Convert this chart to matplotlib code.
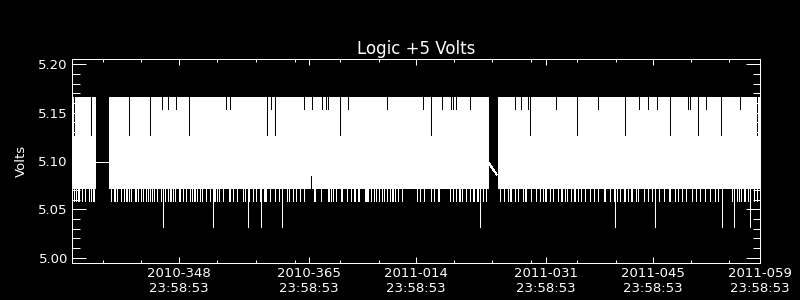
import numpy as np
import matplotlib.pyplot as plt
from matplotlib.ticker import FixedLocator, MultipleLocator, FormatStrFormatter

# Logic +5 V housekeeping, min/max of each 3 h bin
# time axis: days since 2010-334 23:58:53
bins_per_day = 8
n_days = 90

# quantised ADC levels (Volts)
level_top = 5.166
level_notch_short = 5.153
level_notch_long = 5.126
level_high_min = 5.086
level_base = 5.072
level_dip = 5.059
level_deep = 5.032

# per-bin low flag: 'd' = bin min reached level_dip, '.' = level_base, '_' = no data
low_flags = [
    "..d.d.dd.." "d..d...d.d" ".d.d._____" "________.." "d..dd..d.." ".d..d.dd.d" ".d...dd..d" "..d.d..d.d",
    ".d.d.d..d." "...d...d.." "d.dd.d.d.." ".dd...d..d" "...d.d.dd." "d..d..d..." "d...d...dd" ".d.d....d.",
    "....dd..d." "..d.....d." ".d...d...d" "..d...d..." "dd.d...d.." "..d...d..d" "....d..d.." ".d..d...d.",
    "..d......." "...dd....." "d......dd." ".d.d..d..." ".dd....d.." ".d...dd..d" "d.....dddd" "..d...d.d.",
    ".d..d.d..d" "..d.dd.d.." ".d...d...." ".........." ".d..d...d." ".....d..d." "..d.d....." ".....d..d.",
    ".d...dd.d." "..d...d..d" "d..dd....." "d..d..____" "_____..d.." "..d...d.dd" "...d..d..." ".d..dd....",
    "d....d...d" "..d..dd..." "d..d....d." ".dd..d..d." "..d..dd..d" "..d...d..." "..d...d..." "d.....dd..",
    "...d...d.." "d..d...dd." ".d...dd..." "d.d.....d." "..d...d..." "d...d....d" "....dd...." ".d..d...d.",
    "..d.....d." "..dd...d.." "..d....d.." "..d...d..." "d........." "d....d.d.." "d..dd..d.." "...d..d...",
]

# bins whose max only reached a lower level
notch_short_days = [11.78, 12.56, 13.61, 20.15, 20.67, 26.04, 30.35, 31.40, 32.71, 33.23,
                    33.49, 36.11, 41.21, 45.92, 48.41, 49.58, 49.84, 50.24, 52.07, 57.96,
                    58.74, 59.66, 63.32, 68.81, 74.18, 75.35, 76.53, 80.59, 80.85, 82.94, 87.39]
notch_long_days = [0.35, 2.49, 7.46, 10.21, 15.31, 25.51, 26.56, 33.76, 35.06, 46.97,
                   53.51, 59.92, 66.07, 72.34, 78.23, 81.90, 84.90, 89.57]
# bins whose min dropped further
deep_dip_days = [11.91, 18.49, 23.03, 24.73, 27.48, 53.25, 71.04, 76.27, 85.04, 86.60, 88.70]
high_min_days = [31.27]

# data gaps: (last time, last value, next time, next value)
gaps = [(3.10, 5.099, 4.76, 5.099),
        (54.51, 5.098, 55.56, 5.086)]

major_days = [14, 31, 45, 62, 76, 90]
major_labels = ["2010-348\n23:58:53", "2010-365\n23:58:53", "2011-014\n23:58:53",
                "2011-031\n23:58:53", "2011-045\n23:58:53", "2011-059\n23:58:53"]
minor_days = [4.06, 9.08, 18.97, 24.03, 29.13, 35.11, 40.12, 49.97, 54.99, 60.0,
              66.06, 71.13, 81.03, 85.95]

# build per-bin envelope
flags = np.array(list("".join(low_flags)))
t = (np.arange(len(flags)) + 0.5) / bins_per_day
hi = np.full(len(flags), level_top)
lo = np.where(flags == "d", level_dip, level_base)
for d in notch_short_days:
    hi[int(d * bins_per_day)] = level_notch_short
for d in notch_long_days:
    hi[int(d * bins_per_day)] = level_notch_long
for d in deep_dip_days:
    lo[int(d * bins_per_day)] = level_deep
for d in high_min_days:
    lo[int(d * bins_per_day)] = level_high_min
ok = flags != "_"

plt.rcParams['font.family'] = ['DejaVu Sans']
fig = plt.figure(figsize=(8, 3), dpi=100, facecolor='black')
ax = fig.add_axes([0.09, 0.1243, 0.86, 0.678], facecolor='black')

ax.vlines(t[ok], lo[ok], hi[ok], colors='white', linewidth=0.72, antialiased=False)
for t0, v0, t1, v1 in gaps:
    ax.plot([t0, t1], [v0, v1], color='white', linewidth=0.72, antialiased=False)

ax.set_xlim(0, n_days)
ax.set_ylim(4.9948, 5.2052)

ax.xaxis.set_major_locator(FixedLocator(major_days))
ax.set_xticklabels(major_labels)
ax.xaxis.set_minor_locator(FixedLocator(minor_days))
ax.yaxis.set_major_locator(MultipleLocator(0.05))
ax.yaxis.set_minor_locator(MultipleLocator(0.01))
ax.yaxis.set_major_formatter(FormatStrFormatter('%.2f'))

ax.tick_params(which='both', direction='in', top=True, right=True,
               colors='white', width=0.72, labelsize=9.5, pad=3)
ax.tick_params(axis='x', which='major', length=4.3)
ax.tick_params(axis='x', which='minor', length=2.2)
ax.tick_params(axis='y', which='major', length=10)
ax.tick_params(axis='y', which='minor', length=5.4)
for s in ax.spines.values():
    s.set_color('white')
    s.set_linewidth(0.72)

ax.set_title('Logic +5 Volts', color='white', fontsize=12, pad=4)
ax.set_ylabel('Volts', color='white', fontsize=9.5)
ax.yaxis.set_label_coords(-0.064, 0.5)

fig.savefig('out.png', dpi=100, facecolor='black')
